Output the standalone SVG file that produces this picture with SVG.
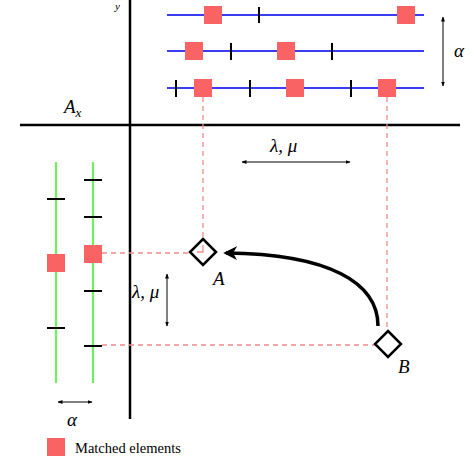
<svg xmlns="http://www.w3.org/2000/svg" width="474" height="474" viewBox="0 0 474 474">
<style>
.axis{stroke:#000;stroke-width:2.5;fill:none}
.blue{stroke:#3b3bf0;stroke-width:2.2}
.green{stroke:#6ef060;stroke-width:2.2}
.tick{stroke:#000;stroke-width:2}
.sq{fill:#f96363}
.dash{stroke:#f08a8a;stroke-width:1.3;stroke-dasharray:5,4;fill:none}
.thin{stroke:#000;stroke-width:1;fill:none}
.m{font-family:"Liberation Serif",serif;font-style:italic;font-size:19px;fill:#000}
.t{font-family:"Liberation Serif",serif;font-size:14.5px;fill:#000}
.dia{fill:#fff;stroke:#000;stroke-width:2.5}
</style>
<defs>
<marker id="ah" viewBox="0 0 10 10" refX="9" refY="5" markerWidth="5" markerHeight="5" orient="auto-start-reverse"><path d="M0,1 L10,5 L0,9 z" fill="#000"/></marker>
<marker id="big" viewBox="0 0 10 10" refX="8" refY="5" markerWidth="4" markerHeight="4" orient="auto"><path d="M0,0 L10,5 L0,10 L3,5 z" fill="#000"/></marker>
</defs>
<g id="axes">
<line class="axis" x1="130" y1="0" x2="130" y2="419"/>
<line class="axis" x1="20" y1="125" x2="460" y2="125"/>
<text class="m" x="115" y="10" style="font-size:11px;fill:#000">y</text>
<text class="m" x="64" y="113">A<tspan font-size="13" dy="4">x</tspan></text>
</g>
<g id="connectors">
<path class="dash" d="M203,97 V252 M387,97 V344 M102,253 H200 M102,345 H385"/>
<line class="thin" x1="443" y1="17" x2="443" y2="86" marker-start="url(#ah)" marker-end="url(#ah)"/>
<line class="thin" x1="242" y1="162" x2="350" y2="162" marker-start="url(#ah)" marker-end="url(#ah)"/>
<line class="thin" x1="167" y1="274" x2="167" y2="326" marker-start="url(#ah)" marker-end="url(#ah)"/>
<line class="thin" x1="58" y1="402" x2="92" y2="402" marker-start="url(#ah)" marker-end="url(#ah)"/>
<path d="M378,326 C378,283 330,254 226,253" fill="none" stroke="#000" stroke-width="3.5" marker-end="url(#big)"/>
</g>
<g id="row1">
<line class="blue" x1="167" y1="15" x2="424" y2="15"/>
<line class="tick" x1="259" y1="7" x2="259" y2="23"/>
<rect class="sq" x="204" y="6" width="18" height="18"/>
<rect class="sq" x="397" y="6" width="18" height="18"/>
</g>
<g id="row2">
<line class="blue" x1="167" y1="51" x2="424" y2="51"/>
<line class="tick" x1="231" y1="43" x2="231" y2="60"/>
<line class="tick" x1="332" y1="43" x2="332" y2="60"/>
<rect class="sq" x="185" y="42" width="18" height="18"/>
<rect class="sq" x="277" y="42" width="18" height="18"/>
</g>
<g id="row3">
<line class="blue" x1="167" y1="88" x2="424" y2="88"/>
<line class="tick" x1="176" y1="80" x2="176" y2="97"/>
<line class="tick" x1="250" y1="80" x2="250" y2="97"/>
<line class="tick" x1="351" y1="80" x2="351" y2="97"/>
<rect class="sq" x="194" y="79" width="18" height="18"/>
<rect class="sq" x="286" y="79" width="18" height="18"/>
<rect class="sq" x="378" y="79" width="18" height="18"/>
</g>
<g id="col1">
<line class="green" x1="56" y1="162" x2="56" y2="383"/>
<line class="tick" x1="47" y1="199" x2="65" y2="199"/>
<line class="tick" x1="47" y1="328" x2="65" y2="328"/>
<rect class="sq" x="47" y="254" width="18" height="18"/>
</g>
<g id="col2">
<line class="green" x1="93" y1="162" x2="93" y2="383"/>
<line class="tick" x1="84" y1="180" x2="102" y2="180"/>
<line class="tick" x1="84" y1="217" x2="102" y2="217"/>
<line class="tick" x1="84" y1="291" x2="102" y2="291"/>
<line class="tick" x1="84" y1="346" x2="102" y2="346"/>
<rect class="sq" x="84" y="245" width="18" height="18"/>
</g>
<g id="A">
<path class="dia" d="M203,239 L216,252 L203,265 L190,252 Z"/>
<path class="dash" d="M203,245 V252 H197" style="stroke-dasharray:none"/>
<text class="m" x="213" y="285">A</text>
</g>
<g id="B">
<path class="dia" d="M388,331 L401,344 L388,357 L375,344 Z"/>
<text class="m" x="398" y="373">B</text>
</g>
<g id="labels">
<text class="m" x="454" y="57">α</text>
<text class="m" x="270" y="152">λ, μ</text>
<text class="m" x="132" y="298">λ, μ</text>
<text class="m" x="67" y="426">α</text>
</g>
<g id="legend">
<rect class="sq" x="47" y="438" width="18" height="18"/>
<text class="t" x="75" y="453">Matched elements</text>
</g>
</svg>
